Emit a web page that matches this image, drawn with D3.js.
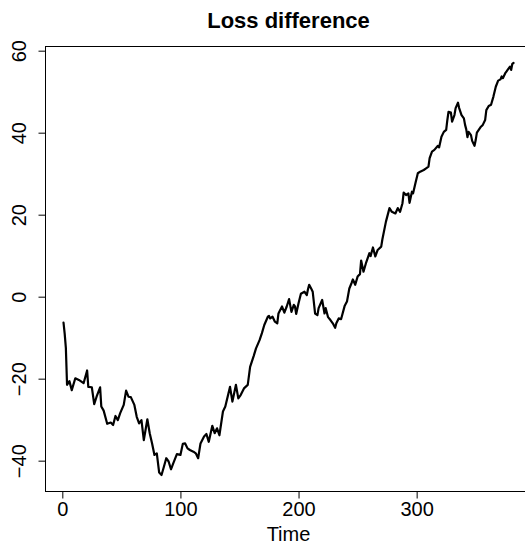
<!DOCTYPE html>
<html>
<head>
<meta charset="utf-8">
<script src="https://cdn.jsdelivr.net/npm/d3@7"></script>
<style>
  html, body { margin: 0; padding: 0; background: #fff; }
  svg { display: block; }
  text { font-family: "Liberation Sans", Arial, Helvetica, sans-serif; fill: #000; }
</style>
</head>
<body>
<script>
const timeValues = [1,2,3,4,6,8,11,14,18,21,22,25,27,29,32,33,35,38,41,43,45,47,49,52,54,56,58,61,63,65,67,69,72,74,76,78,80,82,84,86,88,90,92,94,97,100,102,104,106,108,111,113,115,117,120,122,124,127,129,131,133,136,138,142,144,147,149,151,154,157,159,162,164,167,169,171,174,175,176,178,180,182,183,186,188,190,192,194,196,197,198,200,202,205,207,208,209,211,212,214,216,217,220,222,223,225,227,229,231,232,234,236,239,241,243,245,246,248,250,252,253,255,257,260,261,263,265,267,270,271,274,277,279,282,284,286,288,289,291,293,294,296,297,299,301,303,306,308,310,311,313,315,318,319,321,323,325,326,327,329,330,332,333,335,336,338,340,341,342,343,344,346,347,349,350,351,354,356,358,359,361,363,365,367,369,371,372,373,375,376,377,379,380,381,382];
const lossDiff = [-6.3,-9,-12.5,-21.5,-20.6,-22.8,-19.9,-20.3,-21.1,-18.0,-22,-22.1,-26.2,-24.4,-22.1,-26.8,-27.8,-31,-30.7,-31.3,-29.1,-30.1,-28.4,-26.4,-22.9,-24.4,-24.5,-26.4,-29.3,-30.9,-30.1,-35,-29.9,-33.3,-35.8,-38.6,-38.2,-42.9,-43.5,-41.5,-39.4,-40.2,-42.1,-40.6,-38.4,-38.6,-35.9,-35.8,-37,-37.4,-37.8,-38.2,-39.4,-35.8,-34.1,-33.5,-35.4,-31.5,-33.3,-32.1,-33.8,-28,-26.8,-22,-25.6,-21.5,-24.8,-24,-22.3,-21.5,-17.1,-14.5,-12.6,-10.6,-8.9,-6.9,-4.9,-4.7,-5.3,-4.9,-6.1,-6.5,-4.1,-2.4,-3.9,-2.4,-0.6,-3.7,-2,-2.4,-4.2,-1.6,0.7,1.2,0.4,1.8,2.9,1.8,1.2,-4.1,-4.5,-2.8,-0.8,-4.1,-2.8,-5,-5.7,-6.5,-7.6,-6.5,-5.3,-5.5,-2.3,-1.2,2,3.4,4.2,2.9,4.9,5.5,8.8,6.1,8.1,10.6,9.9,12,9.8,11.4,12.2,14,18.3,21.6,20.7,20.3,21.6,20.7,22.8,25.4,24.8,25.2,22.9,25.6,25.2,27.7,30.1,30.5,30.9,31.3,31.7,33.8,35.4,35.8,36.8,36.4,39,40.2,40.7,43.1,45.1,44.9,42.7,44.3,46,47.3,46,44.3,43.5,41.9,40.8,38.9,40.2,39.4,38,36.8,38.2,40,41.3,41.9,43.1,45.5,46.5,46.8,48.8,51.2,52.7,53,53.7,53.3,54.5,54.9,55.3,56.1,55.3,56.8,57];
const xTicks = [0, 100, 200, 300];
const yTicks = [-40, -20, 0, 20, 40, 60];
const titleText = "Loss difference";
const xLabel = "Time";

const W = 525, H = 544;
const svg = d3.select("body").append("svg").attr("width", W).attr("height", H);

const xMin = d3.min(timeValues), xMax = d3.max(timeValues);
const yMin = d3.min(lossDiff), yMax = d3.max(lossDiff);
const xPad = (xMax - xMin) * 0.04, yPad = (yMax - yMin) * 0.04;

const plotL = 45.5, plotR = 531.5, plotT = 46.5, plotB = 491.5;
const x = d3.scaleLinear().domain([xMin - xPad, xMax + xPad]).range([plotL, plotR]);
const y = d3.scaleLinear().domain([yMin - yPad, yMax + yPad]).range([plotB, plotT]);

// box
svg.append("rect").attr("x", plotL).attr("y", plotT)
  .attr("width", plotR - plotL).attr("height", plotB - plotT)
  .attr("fill", "none").attr("stroke", "#000").attr("stroke-width", 1);

// line
const line = d3.line().x((d, i) => x(timeValues[i])).y(d => y(d));
svg.append("path").datum(lossDiff).attr("d", line)
  .attr("fill", "none").attr("stroke", "#000").attr("stroke-width", 2.2)
  .attr("stroke-linejoin", "round").attr("stroke-linecap", "round");

// x axis
const xAxis = d3.axisBottom(x).tickValues(xTicks).tickSize(7).tickPadding(3).tickFormat(d3.format("d"));
const gx = svg.append("g").attr("transform", `translate(0,${plotB})`).call(xAxis);
gx.select(".domain").attr("d", `M${x(xTicks[0])},0H${x(xTicks[xTicks.length-1])}`).attr("stroke", "#000");
gx.selectAll(".tick line").attr("stroke", "#000");
gx.selectAll(".tick text").attr("font-size", 20).attr("dy", null).attr("y", 24.5)
  .style("font-family", "'Liberation Sans', Arial, sans-serif").attr("fill", "#000");

// y axis
const yAxis = d3.axisLeft(y).tickValues(yTicks).tickSize(7).tickFormat(d => d < 0 ? "\u2212" + Math.abs(d) : String(d));
const gy = svg.append("g").attr("transform", `translate(${plotL},0)`).call(yAxis);
gy.select(".domain").attr("d", `M0,${y(yTicks[0])}V${y(yTicks[yTicks.length-1])}`).attr("stroke", "#000");
gy.selectAll(".tick line").attr("stroke", "#000");
gy.selectAll(".tick text").attr("font-size", 20).attr("x", null).attr("dy", null)
  .attr("text-anchor", "middle")
  .attr("transform", "translate(-19.5,0) rotate(-90)")
  .style("font-family", "'Liberation Sans', Arial, sans-serif").attr("fill", "#000");

// title
svg.append("text").attr("x", (plotL + plotR) / 2).attr("y", 28)
  .attr("text-anchor", "middle").attr("font-size", 22).attr("font-weight", "bold")
  .text(titleText);

// x label
svg.append("text").attr("x", (plotL + plotR) / 2).attr("y", 541)
  .attr("text-anchor", "middle").attr("font-size", 20)
  .text(xLabel);
</script>
</body>
</html>
